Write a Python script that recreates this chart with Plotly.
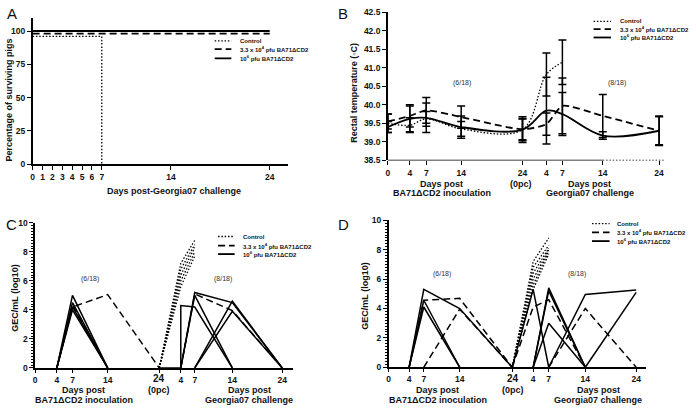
import plotly.graph_objects as go

W, H = 696, 410

# ---------------- data ----------------
# Panel A: survival (%), step curves
A_TICK_DAYS = [0, 1, 2, 3, 4, 5, 6, 7, 14, 24]
A_CONTROL_DAYS = [0, 7]
A_CONTROL_SURV = [96, 0]
A_LOW_DAYS = [0, 24]
A_LOW_SURV = [98, 98]
A_HIGH_DAYS = [0, 24]
A_HIGH_SURV = [100, 100]

# Time points shared by panels B, C, D (inoculation phase, then challenge phase)
TIME_LABELS = ["0", "4", "7", "14", "24", "4", "7", "14", "24"]

# Panel B: rectal temperature mean and error (index = time point)
B_CONTROL_MEAN = [39.50, 39.45, 39.62, 39.35, 39.33, 40.82, 41.15]
B_CONTROL_ERR = [0.25, 0.20, 0.20, 0.20, 0.30, 0.58, 0.60]
B_LOW_MEAN = [39.55, 39.70, 39.85, 39.67, 39.34, 39.48, 39.97, 39.70, 39.30]
B_LOW_ERR = [0.20, 0.30, 0.35, 0.30, 0.28, 0.30, 0.75, 0.58, 0.40]
B_HIGH_MEAN = [39.40, 39.62, 39.65, 39.40, 39.33, 39.84, 39.75, 39.17, 39.30]
B_HIGH_ERR = [0.15, 0.35, 0.40, 0.30, 0.35, 0.90, 0.58, 0.10, 0.38]

# Panel C: GEC/mL (log10), individual pigs as (time index, value)
C_CONTROL = [
    [(4, 0), (5, 7.2), (6, 8.8)],
    [(4, 0), (5, 6.8), (6, 8.5)],
    [(4, 0), (5, 6.4), (6, 8.3)],
    [(4, 0), (5, 6.0), (6, 8.0)],
    [(4, 0), (5, 5.6), (6, 7.7)],
]
C_LOW = [
    [(1, 0), (2, 4.2), (3, 5.05), (4, 0)],
    [(1, 0), (2, 4.35), (3, 0)],
    [(5, 0), (6, 5.1), (7, 3.95), (8, 0)],
]
C_HIGH = [
    [(1, 0), (2, 5.0), (3, 0)],
    [(1, 0), (2, 4.5), (3, 0)],
    [(1, 0), (2, 4.2), (3, 0)],
    [(1, 0), (2, 4.0), (3, 0)],
    [(4, 0), (5, 0), (5, 4.3), (6, 4.2), (7, 0)],
    [(5, 0), (6, 5.2), (7, 4.5), (8, 0)],
    [(5, 0), (6, 5.0), (7, 0)],
    [(6, 0), (7, 4.6), (8, 0)],
    [(6, 0), (7, 3.9), (8, 0)],
]

# Panel D
D_CONTROL = [
    [(4, 0), (5, 7.2), (6, 8.8)],
    [(4, 0), (5, 6.8), (6, 8.3)],
    [(4, 0), (5, 6.4), (6, 8.1)],
    [(4, 0), (5, 6.0), (6, 8.0)],
    [(4, 0), (5, 5.6), (6, 7.9)],
    [(4, 0), (5, 5.3), (6, 7.7)],
]
D_LOW = [
    [(1, 0), (2, 4.56), (3, 4.69), (4, 0)],
    [(2, 0), (3, 3.95), (4, 0)],
    [(4, 0), (5, 4.1), (6, 4.6), (7, 0)],
    [(6, 0), (7, 4.0), (8, 0)],
]
D_HIGH = [
    [(1, 0), (2, 5.3), (3, 4.0), (4, 0)],
    [(1, 0), (2, 4.56), (3, 0)],
    [(1, 0), (2, 4.1), (3, 0)],
    [(4, 0), (5, 5.3), (6, 0)],
    [(5, 0), (6, 5.4), (7, 0)],
    [(5, 0), (6, 5.2), (7, 0)],
    [(5, 0), (6, 3.0), (7, 0)],
    [(6, 0), (7, 4.95), (8, 5.25)],
    [(7, 0), (8, 5.1)],
]

LEGEND_LABELS = ["Control", "3.3 x 10<sup>4</sup> pfu BA71ΔCD2", "10<sup>6</sup> pfu BA71ΔCD2"]

# ---------------- layout helpers ----------------
# axis positions (in axis units) of the time points for each panel
POS_B = [0, 22, 38.5, 73.5, 135, 159, 175, 215.5, 272]
POS_C = [0, 21.7, 37.4, 72.7, 124.4, 146, 160, 197.7, 247.7]
POS_D = [0, 20.6, 35.3, 71.3, 124, 145, 160.6, 197.3, 248.3]

FONT = "Liberation Sans, Arial, sans-serif"
DOT = "1.5px,1.8px"
DASH = "7px,4px"


def px(x):
    return x / W


def py(y):
    return 1 - y / H


fig = go.Figure()


def add_line(xs, ys, xa, ya, dash="solid", width=1.5, shape="linear", err=None, smoothing=1.0):
    kw = {}
    if err is not None:
        kw["error_y"] = dict(type="data", array=err, visible=True, color="black",
                             thickness=1.5, width=4)
    fig.add_trace(go.Scatter(
        x=xs, y=ys, xaxis=xa, yaxis=ya, mode="lines",
        line=dict(color="black", width=width, dash=dash, shape=shape,
                  smoothing=smoothing if shape == "spline" else None),
        showlegend=False, hoverinfo="skip", cliponaxis=False, **kw))


# Panel A
add_line(A_CONTROL_DAYS, A_CONTROL_SURV, "x", "y", DOT, 1.3, "hv")
add_line(A_LOW_DAYS, A_LOW_SURV, "x", "y", DASH, 1.8)
add_line(A_HIGH_DAYS, A_HIGH_SURV, "x", "y", "solid", 1.8)

# Panel B
add_line([POS_B[i] for i in range(len(B_CONTROL_MEAN))], B_CONTROL_MEAN, "x2", "y2",
         DOT, 1.3, "spline", B_CONTROL_ERR)
add_line([POS_B[i] for i in range(len(B_LOW_MEAN))], B_LOW_MEAN, "x2", "y2",
         DASH, 1.8, "spline", B_LOW_ERR, 0.6)
add_line([POS_B[i] for i in range(len(B_HIGH_MEAN))], B_HIGH_MEAN, "x2", "y2",
         "solid", 1.8, "spline", B_HIGH_ERR)


def add_pigs(groups, pos, xa, ya):
    for lines, dash, w in groups:
        for pts in lines:
            add_line([pos[i] for i, _ in pts], [v for _, v in pts], xa, ya, dash, w)


add_pigs([(C_CONTROL, DOT, 1.3), (C_LOW, DASH, 1.5), (C_HIGH, "solid", 1.5)], POS_C, "x3", "y3")
add_pigs([(D_CONTROL, DOT, 1.3), (D_LOW, DASH, 1.5), (D_HIGH, "solid", 1.5)], POS_D, "x4", "y4")

tickfont = dict(family=FONT, size=8.5, color="#111", weight="bold")
axcommon = dict(showgrid=False, zeroline=False, showline=True, linecolor="black",
                linewidth=1.5, ticks="outside", ticklen=4, tickwidth=1.3,
                tickcolor="black", tickfont=tickfont, fixedrange=True)
axshort = {**axcommon, "ticklen": 3}

ticktext_mid_blank = ["0", "4", "7", "14", " ", "4", "7", "14", "24"]

fig.update_layout(
    width=W, height=H, margin=dict(l=0, r=0, t=0, b=0),
    paper_bgcolor="white", plot_bgcolor="white", showlegend=False,
    xaxis=dict(domain=[px(30.7), px(287.3)], range=[0, 25.9], anchor="y",
               tickvals=A_TICK_DAYS, ticktext=[str(d) for d in A_TICK_DAYS], **axcommon),
    yaxis=dict(domain=[py(163.3), py(13)], range=[0, 110], anchor="x",
               tickvals=[0, 25, 50, 75, 100], **axcommon),
    xaxis2=dict(domain=[px(387), px(665)], range=[0, 278], anchor="y2",
                tickvals=POS_B, ticktext=TIME_LABELS, **{**axcommon, "showline": False}),
    yaxis2=dict(domain=[py(159.3), py(7.3)], range=[38.5, 42.5], anchor="x2",
                dtick=0.5, tickformat=".1f", **axcommon),
    xaxis3=dict(domain=[px(33.3), px(291.7)], range=[0, 258.4], anchor="y3",
                tickvals=POS_C, ticktext=ticktext_mid_blank, **axshort),
    yaxis3=dict(domain=[py(372), py(223.3)], range=[0, 10], anchor="x3", dtick=2,
                minor=dict(ticks="outside", ticklen=2, dtick=0.2, tickcolor="black", tickwidth=1),
                **axcommon),
    xaxis4=dict(domain=[px(387.7), px(646)], range=[0, 258.3], anchor="y4",
                tickvals=POS_D, ticktext=ticktext_mid_blank, **axshort),
    yaxis4=dict(domain=[py(371.3), py(220.7)], range=[0, 10], anchor="x4", dtick=2,
                minor=dict(ticks="outside", ticklen=2, dtick=0.2, tickcolor="black", tickwidth=1),
                **axcommon),
)

shapes = []
# panel B x-axis: solid up to day 14 post challenge, dotted beyond
shapes.append(dict(type="line", xref="x2", yref="y2", x0=0, x1=POS_B[7], y0=38.5, y1=38.5,
                   line=dict(color="black", width=1.5)))
shapes.append(dict(type="line", xref="x2", yref="y2", x0=POS_B[7], x1=278, y0=38.5, y1=38.5,
                   line=dict(color="black", width=1.3, dash=DOT)))

annotations = []


def txt(x, y, s, size=9, bold=True, angle=0, xanchor="center", color="#111"):
    annotations.append(dict(x=px(x), y=py(y), xref="paper", yref="paper", text=s,
                            showarrow=False, xanchor=xanchor, yanchor="middle",
                            textangle=angle,
                            font=dict(family=FONT, size=size, color=color,
                                      weight="bold" if bold else "normal")))


# legends
LEG = [  # (line x0, x1, text x, [y rows])
    (213.3, 230, 236.7, [36.7, 45.3, 54.7]),
    (593.3, 610.7, 617.3, [16.7, 24.7, 33.3]),
    (216.7, 233.3, 240, [237.3, 246.7, 255.3]),
    (591.7, 609.3, 615, [224, 233, 242]),
]
styles = [(DOT, 1.3), (DASH, 1.8), ("solid", 1.8)]
for x0, x1, tx, rows in LEG:
    for (dash, w), yy, lab in zip(styles, rows, LEGEND_LABELS):
        shapes.append(dict(type="line", xref="paper", yref="paper", x0=px(x0), x1=px(x1),
                           y0=py(yy), y1=py(yy), line=dict(color="black", width=w, dash=dash)))
        txt(tx, yy, lab, size=6, xanchor="left")

# panel letters
txt(10, 9, "A", size=15, bold=False)
txt(342, 9, "B", size=15, bold=False)
txt(10, 225, "C", size=15, bold=False)
txt(342, 225, "D", size=15, bold=False)

# axis titles
txt(172, 191, "Days post-Georgia07 challenge", size=9)
txt(7, 97, "Percentage of surviving pigs", size=9, angle=-90)
txt(353, 90, "Rectal temperature (◦C)", size=9, angle=-90)
txt(13, 300, "GEC/mL (log10)", size=9, angle=-90)
txt(364, 298, "GEC/mL (log10)", size=9, angle=-90)

# B x-axis texts
txt(441, 183, "Days post", size=9)
txt(441, 193, "BA71ΔCD2 inoculation", size=9)
txt(520, 183, "(0pc)", size=9)
txt(589, 183, "Days post", size=9)
txt(590, 193, "Georgia07 challenge", size=9)

# C x-axis texts
txt(157.7, 383, "24", size=10)
txt(157.7, 395, "(0pc)", size=9)
txt(82, 395, "Days post", size=9)
txt(82, 405, "BA71ΔCD2 inoculation", size=9)
txt(248, 395, "Days post", size=9)
txt(248, 405, "Georgia07 challenge", size=9)

# D x-axis texts
txt(512, 383, "24", size=10)
txt(512, 395, "(0pc)", size=9)
txt(437, 395, "Days post", size=9)
txt(437, 405, "BA71ΔCD2 inoculation", size=9)
txt(598, 395, "Days post", size=9)
txt(598, 405, "Georgia07 challenge", size=9)

# fraction notes
for x, y, s in [(461, 80, "(6/18)"), (617, 80, "(8/18)"), (88, 281, "(6/18)"),
                (222, 281, "(8/18)"), (441, 276, "(6/18)"), (577, 276, "(8/18)")]:
    txt(x, y, s, size=7, bold=False, color="#333")

fig.update_layout(shapes=shapes, annotations=annotations)
fig.write_html("out.html", config={"displayModeBar": False},
               post_script="document.body.style.margin='0';document.body.style.padding='0';")
